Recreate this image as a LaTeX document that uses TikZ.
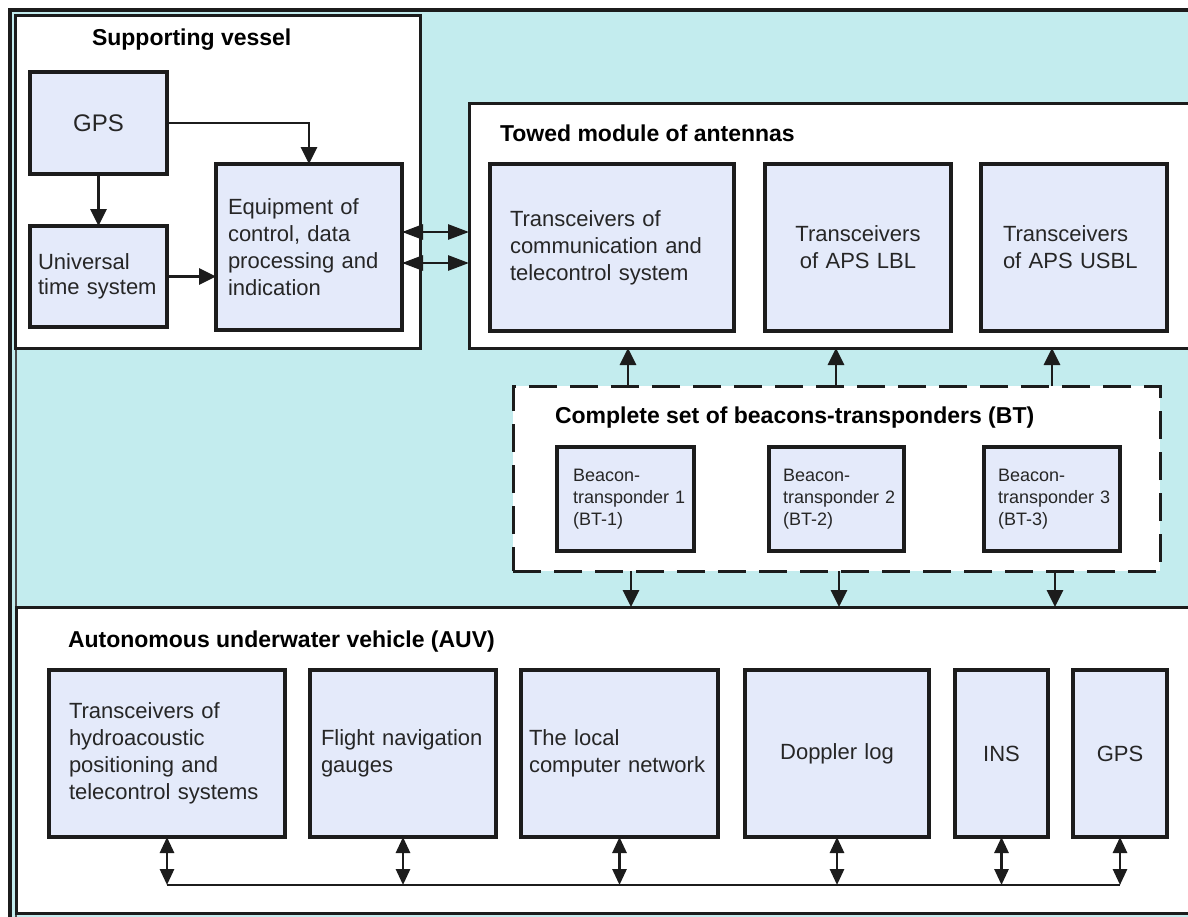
\documentclass[tikz,border=0pt]{standalone}
\usepackage{fontspec}
\setmainfont{Liberation Sans}
\usetikzlibrary{arrows.meta,calc}
\definecolor{bgcyan}{RGB}{195,236,238}
\definecolor{boxfill}{RGB}{228,234,250}
\definecolor{lineC}{RGB}{28,28,28}
\newcommand\myBody{\fontsize{22}{27}\selectfont}
\newcommand\myTitle{\fontsize{23}{27}\selectfont\bfseries}
\newcommand\myBeacon{\fontsize{18}{22}\selectfont}
\hyphenpenalty=10000
\exhyphenpenalty=10000
\begin{document}
\begin{tikzpicture}[x=1pt,y=-1pt,
  every node/.style={inner sep=0pt, outer sep=0pt},
  box/.style={draw=lineC, fill=boxfill, line width=3.2pt, anchor=north west, font=\myBody, align=left, text=black!85},
  cont/.style={draw=lineC, fill=white, line width=3pt, anchor=north west},
  ttl/.style={anchor=west, font=\myTitle},
  arr/.style={line width=2.8pt, draw=lineC, -{Triangle[length=17pt,width=16pt]}},
  darr/.style={line width=2.8pt, draw=lineC, {Triangle[length=16pt,width=14pt]}-{Triangle[length=16pt,width=14pt]}},
  larr/.style={line width=2.8pt, draw=lineC, {Triangle[length=21pt,width=15pt]}-{Triangle[length=21pt,width=15pt]}},
  busline/.style={line width=2.8pt, draw=lineC}]
\useasboundingbox (0,0) rectangle (1188,916);
\clip (0,0) rectangle (1188,916);
% background and frame
\fill[white] (0,0) rectangle (1188,916);
\fill[bgcyan] (10,10) rectangle (1200,920);
\draw[line width=3.2pt, lineC] (10,920) -- (10,10) -- (1200,10);
\draw[line width=2pt, lineC!80] (16,920) -- (16,14);
% containers
\node[cont, minimum width=405, minimum height=333] (sv) at (15,15) {};
\node[cont, minimum width=740, minimum height=245] (tow) at (469,103) {};
\node[cont, minimum width=1190, minimum height=306] (auv) at (16,607) {};
\node[cont, dash pattern=on 28pt off 13pt, line width=3pt, minimum width=647, minimum height=185] (bset) at (513,386) {};
% titles
\node[ttl] (svt) at (92,40) {Supporting vessel};
\node[ttl] (towt) at (500,133) {Towed module of antennas};
\node[ttl] (bst) at (555,418) {Complete set of beacons-transponders (BT)};
\node[ttl] (auvt) at (68,642) {Autonomous underwater vehicle (AUV)};
% supporting vessel boxes
\node[box, align=center, text width=137, minimum height=102, font=\fontsize{24}{28}\selectfont] (gps) at (30,72) {GPS};
\node[box, text width=121, inner xsep=8, minimum height=101, font=\fontsize{22}{25}\selectfont] (uts) at (30,226) {Universal\\time~system};
\node[box, text width=162, inner xsep=12, minimum height=166] (eq) at (216,164) {Equipment of\\control, data\\processing and\\indication};
% towed boxes
\node[box, text width=204, inner xsep=20, minimum height=167] (ct) at (490,164) {Transceivers of\\communication and\\telecontrol system};
\node[box, align=center, text width=186, minimum height=167] (lbl) at (765,164) {Transceivers\\of APS LBL};
\node[box, text width=142, inner xsep=22, minimum height=167] (usbl) at (981,164) {Transceivers\\of APS USBL};
% beacons
\node[box, font=\myBeacon, text width=105, inner xsep=16, minimum height=104] (b1) at (557,447) {Beacon-\\transponder~1\\(BT-1)};
\node[box, font=\myBeacon, text width=107, inner xsep=14, minimum height=104] (b2) at (769,447) {Beacon-\\transponder~2\\(BT-2)};
\node[box, font=\myBeacon, text width=108, inner xsep=14, minimum height=104] (b3) at (984,447) {Beacon-\\transponder~3\\(BT-3)};
% AUV boxes
\node[box, text width=196, inner xsep=20, minimum height=167] (a1) at (49,670) {Transceivers of\\hydroacoustic\\positioning and\\telecontrol systems};
\node[box, text width=164, inner xsep=11, minimum height=167] (a2) at (310,670) {Flight navigation\\gauges};
\node[box, text width=181, inner xsep=8, minimum height=167] (a3) at (521,670) {The local\\computer network};
\node[box, align=center, text width=184, minimum height=167] (a4) at (745,670) {Doppler log};
\node[box, align=center, text width=93, minimum height=167] (a5) at (955,670) {INS};
\node[box, align=center, text width=94, minimum height=167] (a6) at (1073,670) {GPS};
% supporting vessel connectors
\draw[arr] (gps.east) -| (eq.north);
\draw[arr] (gps.south) -- (uts.north);
\draw[arr] (uts.east) -- (uts.east -| eq.west);
\coordinate (h1) at (0,232);
\coordinate (h2) at (0,263);
\draw[larr] (h1 -| eq.east) -- (h1 -| tow.west);
\draw[larr] (h2 -| eq.east) -- (h2 -| tow.west);
% beacon set connectors
\coordinate (u1) at (628,0);
\coordinate (u2) at (836,0);
\coordinate (u3) at (1052,0);
\coordinate (w1) at (631,0);
\coordinate (w2) at (839,0);
\coordinate (w3) at (1055,0);
\foreach \c in {u1,u2,u3} \draw[arr] (\c |- bset.north) -- (\c |- tow.south);
\foreach \c in {w1,w2,w3} \draw[arr] (\c |- bset.south) -- (\c |- auv.north);
% AUV bus
\coordinate (busy) at (0,885);
\draw[busline] (a1.south |- busy) -- (a6.south |- busy);
\foreach \b in {a1,a2,a3,a4,a5,a6} \draw[darr] (\b.south) -- (\b.south |- busy);
\end{tikzpicture}
\end{document}
